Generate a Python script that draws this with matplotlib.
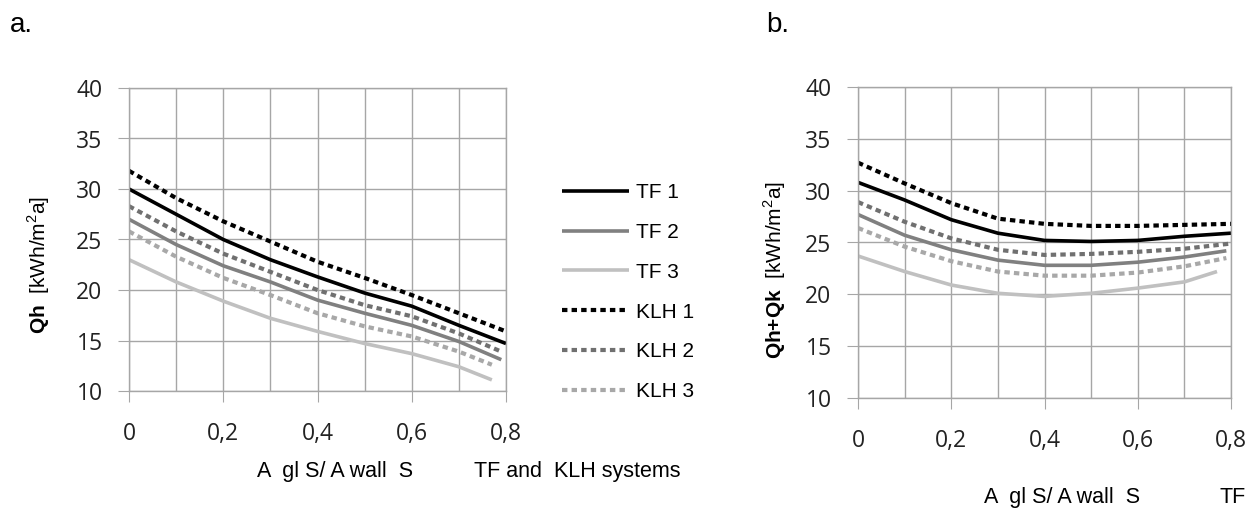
import matplotlib
matplotlib.use('Agg')
import matplotlib.pyplot as plt
from matplotlib.ticker import MultipleLocator, FixedLocator

plt.rcParams['font.family'] = ['Liberation Sans', 'DejaVu Sans']
plt.rcParams['mathtext.fontset'] = 'custom'
plt.rcParams['mathtext.rm'] = 'Liberation Sans'
plt.rcParams['mathtext.bf'] = 'Liberation Sans:bold'

# x positions (A gl S / A wall S)
x_full = [0, 0.1, 0.2, 0.3, 0.4, 0.5, 0.6, 0.7, 0.8]
x_79 = [0, 0.1, 0.2, 0.3, 0.4, 0.5, 0.6, 0.7, 0.79]
x_77 = [0, 0.1, 0.2, 0.3, 0.4, 0.5, 0.6, 0.7, 0.77]

# panel a: Qh
qh_tf1 = [30.0, 27.5, 25.0, 23.0, 21.3, 19.7, 18.4, 16.5, 14.7]
qh_tf2 = [27.0, 24.5, 22.4, 20.8, 19.0, 17.7, 16.5, 14.9, 13.1]
qh_tf3 = [23.0, 20.8, 18.9, 17.2, 15.9, 14.7, 13.7, 12.4, 11.1]
qh_klh1 = [31.8, 29.1, 26.8, 24.8, 22.8, 21.2, 19.5, 17.7, 15.9]
qh_klh2 = [28.3, 25.8, 23.6, 21.8, 20.0, 18.5, 17.4, 15.7, 13.9]
qh_klh3 = [25.8, 23.3, 21.2, 19.5, 17.7, 16.4, 15.4, 13.9, 12.6]

# panel b: Qh+Qk
qk_tf1 = [30.8, 29.1, 27.2, 25.9, 25.2, 25.1, 25.2, 25.6, 25.9]
qk_tf2 = [27.7, 25.7, 24.3, 23.3, 22.8, 22.8, 23.1, 23.6, 24.2]
qk_tf3 = [23.7, 22.2, 20.9, 20.1, 19.8, 20.1, 20.6, 21.2, 22.2]
qk_klh1 = [32.7, 30.7, 28.8, 27.3, 26.8, 26.6, 26.6, 26.7, 26.8]
qk_klh2 = [28.9, 27.0, 25.4, 24.3, 23.8, 23.9, 24.1, 24.4, 24.9]
qk_klh3 = [26.4, 24.6, 23.2, 22.2, 21.8, 21.8, 22.1, 22.7, 23.5]

names = ['TF 1', 'TF 2', 'TF 3', 'KLH 1', 'KLH 2', 'KLH 3']
xtick_vals = [0, 0.2, 0.4, 0.6, 0.8]
xtick_labels = ['0', '0,2', '0,4', '0,6', '0,8']

grid_c = '#a6a6a6'
tick_font = {'family': 'Open Sans', 'size': 16.5}

fig = plt.figure(figsize=(12.48, 5.11), dpi=100)
ax1 = fig.add_axes([129/1248, 1-391/511, 377/1248, 303/511])
ax2 = fig.add_axes([858/1248, 1-398/511, 373/1248, 311/511])


def draw(ax, xs, series):
    styles = [('#000000', '-'), ('#808080', '-'), ('#c0c0c0', '-'),
              ('#000000', (0, (1.3, 1.0))), ('#707070', (0, (1.3, 1.0))),
              ('#a8a8a8', (0, (1.3, 1.0)))]
    lines = []
    for x, y, (c, ls), n in zip(xs, series, styles, names):
        lw = 2.6 if ls == '-' else 3.0
        l, = ax.plot(x, y, color=c, linestyle=ls, lw=lw, label=n,
                     solid_capstyle='butt', dash_capstyle='butt')
        lines.append(l)
    ax.set_xlim(0, 0.8)
    ax.set_ylim(10, 40)
    ax.xaxis.set_major_locator(FixedLocator(xtick_vals))
    ax.xaxis.set_minor_locator(MultipleLocator(0.1))
    ax.set_xticklabels(xtick_labels, fontdict=tick_font)
    ax.set_yticks([10, 15, 20, 25, 30, 35, 40])
    ax.set_yticklabels(['10', '15', '20', '25', '30', '35', '40'], fontdict=tick_font)
    ax.grid(True, which='both', color=grid_c, lw=1)
    ax.set_axisbelow(True)
    for s in ax.spines.values():
        s.set_color(grid_c)
        s.set_linewidth(1)
    ax.tick_params(axis='x', which='major', length=8, color=grid_c, pad=14,
                   labelcolor='#222222')
    ax.tick_params(axis='x', which='minor', length=0)
    ax.tick_params(axis='y', length=8, color=grid_c, pad=11, labelcolor='#222222')
    return lines


lines = draw(ax1, [x_full, x_79, x_77, x_full, x_79, x_77],
             [qh_tf1, qh_tf2, qh_tf3, qh_klh1, qh_klh2, qh_klh3])
draw(ax2, [x_full, x_79, x_77, x_full, x_full, x_79],
     [qk_tf1, qk_tf2, qk_tf3, qk_klh1, qk_klh2, qk_klh3])

fig.legend(handles=lines, labels=names, loc='upper left',
           bbox_to_anchor=(562/1248, 1-183/511), frameon=False,
           borderaxespad=0, borderpad=0, fontsize=15,
           handlelength=3.2, handletextpad=0.35, labelspacing=1.0)

fig.text(39/1248, 1-265/511, r'$\mathbf{Qh}$  [kWh/m$^{2}$a]', rotation=90,
         ha='center', va='center', fontsize=15)
fig.text(775/1248, 1-270/511, r'$\mathbf{Qh{+}Qk}$  [kWh/m$^{2}$a]', rotation=90,
         ha='center', va='center', fontsize=15)

fig.text(335/1248, 1-471/511, 'A  gl S/ A wall  S', ha='center', va='center', fontsize=15.5)
fig.text(577/1248, 1-471/511, 'TF and  KLH systems', ha='center', va='center', fontsize=15.5)
fig.text(1062/1248, 1-497/511, 'A  gl S/ A wall  S', ha='center', va='center', fontsize=15.5)
fig.text(1246/1248, 1-497/511, 'TF', ha='right', va='center', fontsize=15.5)

fig.text(10/1248, 1-25/511, 'a.', ha='left', va='center', fontsize=20)
fig.text(766/1248, 1-25/511, 'b.', ha='left', va='center', fontsize=20)

plt.savefig('out.png', dpi=100)
